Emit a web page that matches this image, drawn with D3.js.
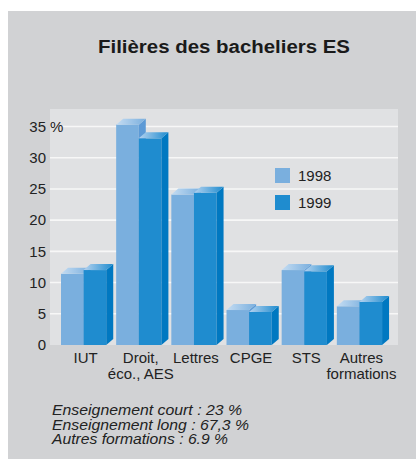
<!DOCTYPE html>
<html>
<head>
<meta charset="utf-8">
<script src="https://cdn.jsdelivr.net/npm/d3@7"></script>
<style>
  body { margin: 0; background: #fff; }
  svg { display: block; font-family: "Liberation Sans", Arial, sans-serif; }
</style>
</head>
<body>
<div id="chart-area"></div>
<script>
// data
const categories = ["IUT", "Droit,\néco., AES", "Lettres", "CPGE", "STS", "Autres\nformations"];
const values1998 = [11.4, 35.3, 24.1, 5.6, 12.0, 6.2];
const values1999 = [12.0, 33.1, 24.4, 5.3, 11.8, 6.9];
const years = ["1998", "1999"];
const yTicks = [0, 5, 10, 15, 20, 25, 30, 35];
const notes = ["Enseignement court : 23 %", "Enseignement long : 67,3 %", "Autres formations : 6.9 %"];
const noteWidths = [190, 197, 176];

const W = 416, H = 459;
const plot = { left: 50, right: 398, top: 109, bottom: 345 };
const depth = { dx: 7, dy: -6 };

const front = ["#7aafde", "#1f8ccf"];
const side = ["#5d9ad6", "#0078c1"];
const topLight = ["#c4dcf2", "#b4d2ef"];

const svg = d3.select("#chart-area").append("svg")
  .attr("width", W).attr("height", H);

const defs = svg.append("defs");
years.forEach((yr, i) => {
  const g = defs.append("linearGradient").attr("id", "top" + i)
    .attr("x1", "0").attr("x2", "1").attr("y1", "0").attr("y2", "0");
  g.append("stop").attr("offset", "0%").attr("stop-color", topLight[i]);
  g.append("stop").attr("offset", "100%").attr("stop-color", front[i]);
});

// grey panel
svg.append("rect").attr("x", 8).attr("y", 11).attr("width", W - 8).attr("height", H - 11)
  .attr("fill", "#d1d2d4");

svg.append("text")
  .attr("x", 98).attr("y", 53)
  .attr("font-size", 18).attr("font-weight", "bold")
  .attr("textLength", 252).attr("lengthAdjust", "spacingAndGlyphs")
  .attr("fill", "#1a1a1a")
  .text("Filières des bacheliers ES");

// plot area
svg.append("rect")
  .attr("x", plot.left).attr("y", plot.top)
  .attr("width", plot.right - plot.left).attr("height", plot.bottom - plot.top)
  .attr("fill", "#e0e1e3");

let y = d3.scaleLinear().domain([0, 35]).range([plot.bottom, plot.bottom - 218.5]);
let x = d3.scaleBand().domain(categories).range([56, 387]).padding(0);
let bw = x.bandwidth() * 0.41;

// gridlines
svg.append("g").selectAll("line").data(yTicks.filter(d => d > 0)).join("line")
  .attr("x1", plot.left).attr("x2", plot.right)
  .attr("y1", d => y(d)).attr("y2", d => y(d))
  .attr("stroke", "#f7f7f7").attr("stroke-width", 1.6);

// y axis labels
let yAxis = d3.axisLeft(y).tickValues(yTicks).tickSize(0).tickPadding(0)
  .tickFormat(d => d);
let yAxisGroup = svg.append("g")
  .attr("transform", "translate(46,0)")
  .call(yAxis);
yAxisGroup.select(".domain").remove();
yAxisGroup.selectAll("text")
  .attr("font-size", 15).attr("fill", "#222")
  .attr("font-family", "Liberation Sans, Arial, sans-serif");
svg.append("text")
  .attr("x", 50).attr("y", y(35) + 5.5)
  .attr("font-size", 15).attr("fill", "#222")
  .text("%");

// bars
const series = [values1998, values1999];
const bars = svg.append("g");
categories.forEach((c, ci) => {
  series.forEach((vals, si) => {
    const x0 = x(c) + 5 + si * bw;
    const x1 = x0 + bw;
    const yt = y(vals[ci]);
    const yb = y(0);
    const g = bars.append("g");
    g.append("rect")
      .attr("x", x0).attr("y", yt)
      .attr("width", bw).attr("height", yb - yt)
      .attr("fill", front[si]);
    g.append("polygon")
      .attr("points", [[x1, yt], [x1 + depth.dx, yt + depth.dy], [x1 + depth.dx, yb + depth.dy], [x1, yb]].join(" "))
      .attr("fill", side[si]);
    g.append("polygon")
      .attr("points", [[x0, yt], [x0 + depth.dx, yt + depth.dy], [x1 + depth.dx, yt + depth.dy], [x1, yt]].join(" "))
      .attr("fill", "url(#top" + si + ")");
  });
});

// x labels
categories.forEach(c => {
  const cx = x(c) + 5 + bw + 2;
  const t = svg.append("text")
    .attr("text-anchor", "middle")
    .attr("font-size", 15).attr("fill", "#222");
  c.split("\n").forEach((line, i) => {
    t.append("tspan").attr("x", cx).attr("y", 363 + i * 15.5).text(line);
  });
});

// legend
years.forEach((yr, i) => {
  svg.append("rect")
    .attr("x", 275).attr("y", 168 + i * 27)
    .attr("width", 15).attr("height", 15)
    .attr("fill", front[i]);
  svg.append("text")
    .attr("x", 298).attr("y", 181 + i * 27)
    .attr("font-size", 15).attr("fill", "#222")
    .text(yr);
});

// notes
notes.forEach((n, i) => {
  svg.append("text")
    .attr("x", 52).attr("y", 415 + i * 14.5)
    .attr("font-size", 14).attr("font-style", "italic")
    .attr("textLength", noteWidths[i]).attr("lengthAdjust", "spacingAndGlyphs")
    .attr("fill", "#222")
    .text(n);
});
</script>
</body>
</html>
